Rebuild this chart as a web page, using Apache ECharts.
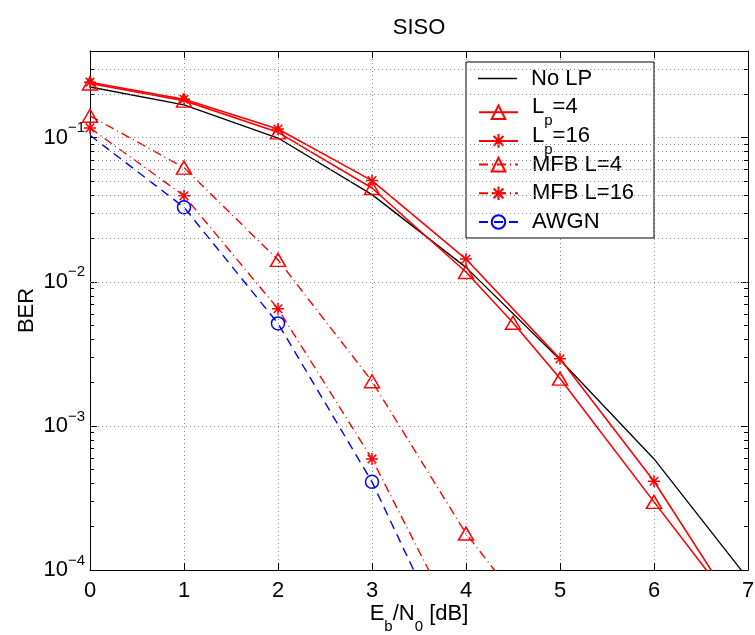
<!DOCTYPE html>
<html><head><meta charset="utf-8">
<script src="https://cdn.jsdelivr.net/npm/echarts@6/dist/echarts.min.js"></script>
<style>html,body{margin:0;padding:0;background:#fff}#c{width:755px;height:635px}</style>
</head><body><div id="c"></div>
<script>
// ---- data ----
const ebn0 = [0, 1, 2, 3, 4, 5, 6, 7];
const ebn0Lp4 = [0, 1, 2, 3, 4, 4.5, 5, 6, 7];
const ebn0Mfb4 = [0, 1, 2, 3, 4, 5];
const ebn0Mfb16 = [0, 1, 2, 3, 4];
const ebn0Awgn = [0, 1, 2, 3, 4];

const berNoLP = [0.225, 0.169, 0.0995, 0.0403, 0.0126, 0.00288, 0.00059, 0.000087];
const berLp4 = [0.238, 0.181, 0.109, 0.0448, 0.0117, 0.0052, 0.00213, 0.000297, 0.000042];
const berLp16 = [0.243, 0.185, 0.115, 0.0504, 0.0144, 0.00292, 0.000413, 0.00004];
const berMfb4 = [0.142, 0.062, 0.0142, 0.00204, 0.000179, 0.000026];
const berMfb16 = [0.117, 0.0396, 0.0065, 0.00059, 0.000031];
const berAwgn = [0.104, 0.0329, 0.00514, 0.000409, 0.000017];
const awgnMarked = [false, true, true, true, false];

const seriesNames = ['No LP', 'Lp=4', 'Lp=16', 'MFB L=4', 'MFB L=16', 'AWGN'];
const yDecades = [1e-4, 1e-3, 1e-2, 1e-1];
const minorMantissas = [2, 3, 4, 5, 6, 7, 8, 9];
const Y_MIN = 1e-4, Y_MAX = 0.4;

// ---- helpers / layout ----
const FONT = '"Liberation Sans", Arial, Helvetica, sans-serif';
const RED = '#ff0000', BLUE = '#0000ff', BLACK = '#000000';
const GRIDC = '#8a8a8a';
function pairs(xs, ys) { return xs.map((x, i) => [x, ys[i]]); }

const minorVals = [];
yDecades.forEach(d => minorMantissas.forEach(m => { const v = d * m; if (v < Y_MAX * 0.98) minorVals.push(v); }));

const asterisk = 'path://M0,-6L0,6M-6,0L6,0M-4.3,-4.3L4.3,4.3M-4.3,4.3L4.3,-4.3';
const hollow = c => ({ color: 'rgba(0,0,0,0)', borderColor: c, borderWidth: 1.5 });

const legendText = {
  'No LP': '{g| }{m|No LP}',
  'Lp=4': '{g| }{a|L}{s|p}{a|=4}',
  'Lp=16': '{g| }{a|L}{s|p}{a|=16}',
  'MFB L=4': '{g| }{m|MFB L=4}',
  'MFB L=16': '{g| }{m|MFB L=16}',
  'AWGN': '{g| }{m|AWGN}'
};
const legendIconY = [78.5, 107.2, 135.9, 164.6, 193.3, 222];
const LEG_OFF = 11;
const legendRich = {
  g: { width: 9, lineHeight: 32, fontSize: 22, fontFamily: FONT },
  m: { fontSize: 22, lineHeight: 32, verticalAlign: 'middle', color: '#000', fontFamily: FONT },
  a: { fontSize: 22, lineHeight: 32, verticalAlign: 'top', color: '#000', fontFamily: FONT },
  s: { fontSize: 15, lineHeight: 15, verticalAlign: 'bottom', color: '#000', fontFamily: FONT }
};

const minorTickLen = 4 / 94;
const tickSegs = [];
minorVals.forEach(v => {
  tickSegs.push([{ coord: [0, v] }, { coord: [minorTickLen, v] }]);
  tickSegs.push([{ coord: [7 - minorTickLen, v] }, { coord: [7, v] }]);
});

const lineIcon = 'path://M0,0L39,0L39,1.3L0,1.3Z';
const legends = seriesNames.map((n, i) => ({
  orient: 'vertical', left: 478, top: legendIconY[i] - LEG_OFF, padding: 0,
  itemWidth: 39, itemHeight: 17, z: 5, selectedMode: false,
  data: [n === 'No LP' ? { name: n, icon: lineIcon, itemStyle: { color: BLACK } } : n],
  formatter: nm => legendText[nm],
  textStyle: { fontSize: 22, color: '#000', fontFamily: FONT, rich: legendRich }
}));

const chart = echarts.init(document.getElementById('c'), null, { renderer: 'canvas' });
chart.setOption({
  animation: false,
  backgroundColor: '#fff',
  title: {
    text: 'SISO', left: 419, top: 17, textAlign: 'center', padding: 0,
    textStyle: { fontSize: 22, fontWeight: 'normal', color: '#000', fontFamily: FONT }
  },
  grid: { left: 90, right: 7, top: 51, bottom: 65, containLabel: false, outerBoundsMode: 'none' },
  graphic: [{
    type: 'rect', z: 3, shape: { x: 466, y: 62, width: 188, height: 176 },
    style: { fill: '#fff', stroke: '#000', lineWidth: 1 }
  }],
  legend: legends,
  xAxis: [{
    type: 'value', min: 0, max: 7, interval: 1, position: 'bottom',
    axisLine: { show: true, onZero: false, lineStyle: { color: '#000', width: 1 } },
    axisTick: { show: true, inside: true, length: 7, lineStyle: { color: '#000' } },
    axisLabel: { fontSize: 22, color: '#000', fontFamily: FONT, margin: 10 },
    splitLine: { show: true, lineStyle: { color: GRIDC, type: [1, 3], width: 1 } },
    name: '{n|E}{s|b}{n|/N}{s|0}{n| [dB]}', nameLocation: 'middle', nameGap: 33,
    nameMoveOverlap: false,
    nameTextStyle: {
      fontSize: 22, color: '#000', fontFamily: FONT,
      rich: {
        n: { fontSize: 22, lineHeight: 31, verticalAlign: 'top', color: '#000', fontFamily: FONT },
        s: { fontSize: 15, lineHeight: 15, verticalAlign: 'bottom', color: '#000', fontFamily: FONT }
      }
    }
  }, {
    type: 'value', min: 0, max: 7, interval: 1, position: 'top',
    axisLine: { show: true, onZero: false, lineStyle: { color: '#000', width: 1 } },
    axisTick: { show: true, inside: true, length: 7, lineStyle: { color: '#000' } },
    axisLabel: { show: false }, splitLine: { show: false }
  }],
  yAxis: [{
    type: 'log', logBase: 10, min: Y_MIN, max: Y_MAX, position: 'left',
    axisLine: { show: true, onZero: false, lineStyle: { color: '#000', width: 1 } },
    axisTick: { show: true, inside: true, length: 7, lineStyle: { color: '#000' } },
    axisLabel: {
      margin: 5, color: '#000', fontFamily: FONT,
      formatter: v => {
        const l = Math.log10(v), e = Math.round(l);
        if (Math.abs(l - e) > 1e-6) return '';
        return '{b|10}{e|\u2212' + (-e) + '}';
      },
      rich: {
        b: { fontSize: 22, lineHeight: 34, verticalAlign: 'middle', color: '#000', fontFamily: FONT },
        e: { fontSize: 15, lineHeight: 15, verticalAlign: 'top', color: '#000', fontFamily: FONT }
      }
    },
    splitLine: { show: true, lineStyle: { color: GRIDC, type: [1, 3], width: 1 } },
    name: 'BER', nameLocation: 'middle', nameGap: 52, nameMoveOverlap: false,
    nameTextStyle: { fontSize: 22, color: '#000', fontFamily: FONT }
  }, {
    type: 'log', logBase: 10, min: Y_MIN, max: Y_MAX, position: 'right',
    axisLine: { show: true, onZero: false, lineStyle: { color: '#000', width: 1 } },
    axisTick: { show: true, inside: true, length: 7, lineStyle: { color: '#000' } },
    axisLabel: { show: false }, splitLine: { show: false }
  }],
  series: [
    {
      name: '_grid', type: 'line', data: [], z: 1, silent: true,
      markLine: {
        silent: true, symbol: ['none', 'none'], label: { show: false }, emphasis: { disabled: true },
        lineStyle: { color: GRIDC, type: [1, 3], width: 1 },
        data: minorVals.map(v => ({ yAxis: v }))
      }
    },
    {
      name: '_ticks', type: 'line', data: [], z: 1, silent: true,
      markLine: {
        silent: true, symbol: ['none', 'none'], label: { show: false }, emphasis: { disabled: true },
        lineStyle: { color: '#000', type: 'solid', width: 1 },
        data: tickSegs
      }
    },
    {
      name: 'No LP', type: 'line', data: pairs(ebn0, berNoLP), symbol: 'none',
      lineStyle: { color: BLACK, width: 1.3 }, itemStyle: { color: BLACK }, z: 3
    },
    {
      name: 'Lp=4', type: 'line', data: pairs(ebn0Lp4, berLp4),
      symbol: 'triangle', symbolSize: [15, 13], showAllSymbol: true,
      lineStyle: { color: RED, width: 1.6 }, itemStyle: hollow(RED), z: 3
    },
    {
      name: 'Lp=16', type: 'line', data: pairs(ebn0, berLp16),
      symbol: asterisk, symbolSize: 12, showAllSymbol: true,
      lineStyle: { color: RED, width: 1.6 }, itemStyle: hollow(RED), z: 3
    },
    {
      name: 'MFB L=4', type: 'line', data: pairs(ebn0Mfb4, berMfb4),
      symbol: 'triangle', symbolSize: [15, 13], showAllSymbol: true,
      lineStyle: { color: RED, width: 1.4, type: [9, 4, 1, 4] }, itemStyle: hollow(RED), z: 3
    },
    {
      name: 'MFB L=16', type: 'line', data: pairs(ebn0Mfb16, berMfb16),
      symbol: asterisk, symbolSize: 12, showAllSymbol: true,
      lineStyle: { color: RED, width: 1.4, type: [9, 4, 1, 4] }, itemStyle: hollow(RED), z: 3
    },
    {
      name: 'AWGN', type: 'line',
      data: ebn0Awgn.map((x, i) => awgnMarked[i] ? [x, berAwgn[i]] : { value: [x, berAwgn[i]], symbol: 'none' }),
      symbol: 'circle', symbolSize: 13, showAllSymbol: true,
      lineStyle: { color: BLUE, width: 1.4, type: [9, 6] }, itemStyle: hollow(BLUE), z: 3
    }
  ]
});
</script>
</body></html>
